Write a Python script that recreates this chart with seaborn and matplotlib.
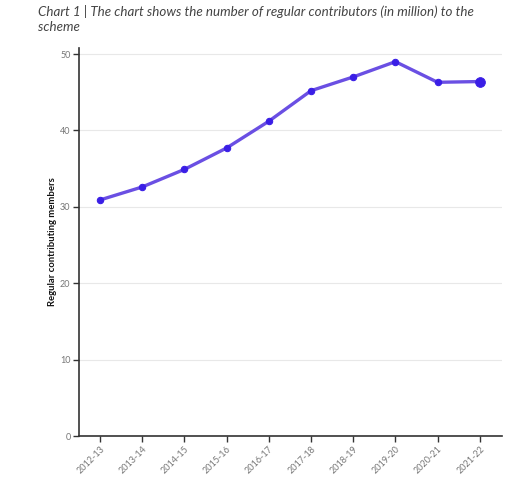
import pandas as pd
import seaborn as sns
import matplotlib.pyplot as plt

years = ['2012-13', '2013-14', '2014-15', '2015-16', '2016-17',
         '2017-18', '2018-19', '2019-20', '2020-21', '2021-22']
members = [30.9, 32.6, 34.9, 37.7, 41.2, 45.2, 47.0, 49.0, 46.3, 46.4]

df = pd.DataFrame({'year': years, 'members': members})
df['pos'] = range(len(df))

sns.set_style('white')
plt.rcParams['font.family'] = ['Lato', 'DejaVu Sans']

fig = plt.figure(figsize=(5.12, 4.84), dpi=100)
ax = fig.add_axes([0.154, 0.099, 0.826, 0.802])

sns.lineplot(data=df, x='pos', y='members', ax=ax, color='#6a4fe3',
             linewidth=2.4, marker='o', markersize=4.6,
             markerfacecolor='#3a1ee6', markeredgecolor='#3a1ee6')
last = df.iloc[[-1]]
sns.scatterplot(data=last, x='pos', y='members', ax=ax, s=50,
                color='#3a1ee6', edgecolor='#3a1ee6', zorder=5)

ax.set_xlim(-0.5, 9.52)
ax.set_ylim(0, 50.8)
ax.set_yticks([0, 10, 20, 30, 40, 50])
ax.set_xticks(df['pos'])
ax.set_xticklabels(years, rotation=45, ha='right', rotation_mode='anchor')
ax.grid(axis='y', color='#e8e8e8', linewidth=0.8)
ax.set_axisbelow(True)

for s in ['top', 'right']:
    ax.spines[s].set_visible(False)
for s in ['left', 'bottom']:
    ax.spines[s].set_color('#333333')
    ax.spines[s].set_linewidth(1.2)

ax.tick_params(axis='both', which='both', length=4, width=1, color='#333333',
               labelsize=6.5, labelcolor='#777777', bottom=True, left=True, pad=2)
ax.set_xlabel('')
ax.set_ylabel('Regular contributing members', fontsize=6.8, fontweight='bold',
              color='#111111', labelpad=2)

fig.text(0.074, 0.99, 'Chart 1 | The chart shows the number of regular contributors (in million) to the\nscheme',
         ha='left', va='top', fontsize=9.6, style='italic', color='#444444',
         linespacing=1.3)

fig.savefig('out.png', dpi=100)
